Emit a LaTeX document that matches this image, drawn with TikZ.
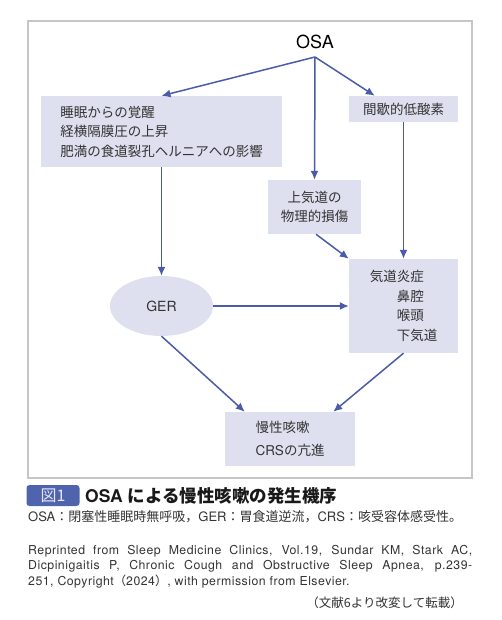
\documentclass[tikz,border=0pt]{standalone}
\usepackage{fontspec}
\setmainfont{TeX Gyre Heros}
\newfontfamily\jp{Noto Sans CJK JP}
\usetikzlibrary{arrows.meta,shapes.geometric}

\definecolor{flowblue}{HTML}{4A5BAA}
\definecolor{boxfill}{HTML}{DEE0F0}
\definecolor{framegray}{HTML}{C6C6C6}
\definecolor{badgeblue}{HTML}{5064AE}
\definecolor{badgetext}{HTML}{E2E6F6}
\definecolor{inktext}{HTML}{333333}

\tikzset{
  box/.style={fill=boxfill, text=inktext, inner sep=0pt,
    font={\jp\fontsize{13.5}{19.5}\selectfont}},
  arr/.style={draw=flowblue, line width=1.5pt, -{Latex[length=9pt,width=8pt]}},
}

\begin{document}
\begin{tikzpicture}[x=1pt, y=-1pt]
        \useasboundingbox (0,0) rectangle (502,620);

        % ---- frame ----
        \draw[framegray, line width=1.2pt] (28,21) rectangle (472,478);

        % ---- nodes ----
        \node[text=black, font=\fontsize{18}{20}\selectfont] (osa) at (315,42) {OSA};
        \coordinate (fork) at (315,57);

        \node[box, minimum width=241pt, minimum height=71pt, align=left] (arousal) at (161.5,131.5)
          {睡眠からの覚醒\\経横隔膜圧の上昇\\肥満の食道裂孔ヘルニアへの影響};
        \node[box, minimum width=109pt, minimum height=26pt] (hypox) at (403.5,109) {間歇的低酸素};
        \node[box, minimum width=93pt, minimum height=54pt, align=center] (injury) at (314.5,207)
          {上気道の\\物理的損傷};
        \node[box, ellipse, minimum width=103pt, minimum height=60pt,
          font=\fontsize{14}{16}\selectfont] (ger) at (161.5,306) {GER};
        \node[box, minimum width=109pt, minimum height=94pt, align=left] (inflam) at (403.5,306)
          {気道炎症\\\hspace*{2em}鼻腔\\\hspace*{2em}喉頭\\\hspace*{2em}下気道};
        \node[box, minimum width=130pt, minimum height=54pt, align=left,
          font={\fontsize{13.5}{23}\selectfont}] (cough) at (290,439)
          {{\jp 慢性咳嗽}\\CRS{\jp の亢進}};

        % ---- connectors ----
        \draw[arr] (fork) -- (arousal.north);
        \draw[arr] (fork) -- (injury.north);
        \draw[arr] (fork) -- ([xshift=26pt]hypox.north west);
        \draw[arr] (arousal.south) -- (ger.north);
        \draw[arr] ([xshift=1.5pt]injury.south) -- (inflam.north west);
        \draw[arr] (hypox.south) -- (inflam.north);
        \draw[arr] (ger.east) -- (inflam.west);
        \draw[arr] (ger.south) -- ([xshift=20pt]cough.north west);
        \draw[arr] (inflam.south) -- ([xshift=-22pt]cough.north east);

        % ---- caption ----
        \node[fill=badgeblue, text=badgetext, rounded corners=3pt, inner sep=0pt,
          minimum width=53pt, minimum height=21pt, font={\jp\fontsize{16}{18}\selectfont}]
          (figno) at (53,495.5) {図1};
        \node[anchor=west, inner sep=0pt, text=black!90, font={\bfseries\fontsize{17.5}{19}\selectfont}]
          (title) at (85,496) {OSA {\jp\bfseries による慢性咳嗽の発生機序}};
        \node[anchor=west, inner sep=0pt, text=inktext, font={\fontsize{13}{15}\selectfont}]
          (abbrev) at (28,517)
          {OSA{\jp ：閉塞性睡眠時無呼吸，}GER{\jp ：胃食道逆流，}CRS{\jp ：咳受容体感受性。}};
        \node[anchor=north west, inner sep=0pt, text=inktext, text width=444pt, align=justify,
          font={\fontsize{12.3}{15.5}\selectfont\addfontfeature{LetterSpace=4}}] (source) at (28,545)
          {Reprinted from Sleep Medicine Clinics, Vol.19, Sundar KM, Stark AC,\linebreak
           Dicpinigaitis P, Chronic Cough and Obstructive Sleep Apnea, p.239-\linebreak
           251, Copyright{\jp （}2024{\jp ）}, with permission from Elsevier.};
        \node[anchor=east, inner sep=0pt, text=inktext, font={\jp\fontsize{12.5}{14}\selectfont}]
          (ref) at (463,603) {（文献6より改変して転載）};
\end{tikzpicture}
\end{document}
